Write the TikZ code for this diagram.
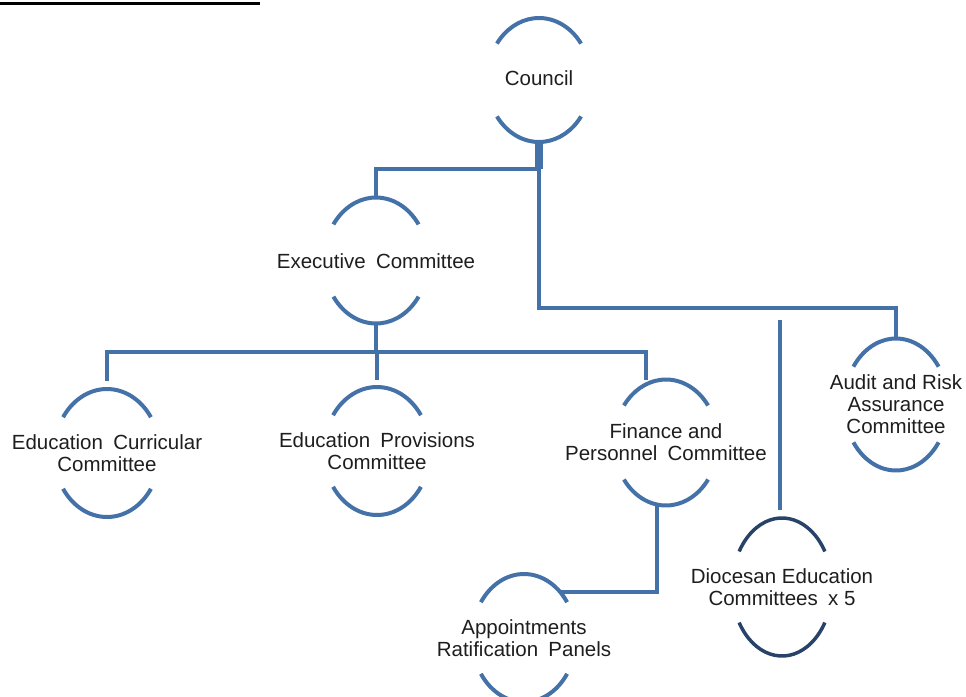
\documentclass[tikz,border=0pt]{standalone}
\usepackage{fontspec}
\setmainfont{Liberation Sans}
\usetikzlibrary{shapes.geometric}
\definecolor{linkblue}{RGB}{68,114,168}
\definecolor{navyarc}{RGB}{40,66,104}
\definecolor{txtgray}{RGB}{30,30,30}
\newcommand{\orgarcs}[5]{%
  \draw[#5] (#1.center) ++(#4:#2pt and #3pt) arc[start angle=#4, end angle={180-#4}, x radius=#2pt, y radius=#3pt];
  \draw[#5] (#1.center) ++({180+#4}:#2pt and #3pt) arc[start angle={180+#4}, end angle={360-#4}, x radius=#2pt, y radius=#3pt];}
\newcommand{\dsp}{\hspace{0.5em}}
\begin{document}
\begin{tikzpicture}[x=1pt,y=-1pt,
  ell/.style={ellipse, draw=none, inner sep=0pt, outer sep=0pt},
  txt/.style={align=center, inner sep=0pt, text=txtgray, font=\fontsize{20.5}{22}\selectfont},
  arcline/.style={draw=linkblue, line width=4pt},
  arcdark/.style={draw=navyarc, line width=3.5pt},
  conn/.style={draw=linkblue, line width=4pt}]
\useasboundingbox (0,0) rectangle (966,696);
% title underline (text cut off above the page)
\coordinate (ula) at (0,3.5);
\coordinate (ulb) at (260,3.5);
\draw[black, line width=3pt] (ula) -- (ulb);
% nodes
\node[ell, minimum width=104pt, minimum height=124pt] (council) at (539,80) {};
\node[txt] (council-t) at ([yshift=2pt]council.center) {Council};
\node[ell, minimum width=104pt, minimum height=126pt] (exec) at (376,260.5) {};
\node[txt] (exec-t) at ([yshift=-1pt]exec.center) {Executive\dsp Committee};
\node[ell, minimum width=106pt, minimum height=128pt] (educ) at (107,453) {};
\node[txt] (educ-t) at (educ) {Education\dsp Curricular\\Committee};
\node[ell, minimum width=106pt, minimum height=128pt] (edup) at (377,451) {};
\node[txt] (edup-t) at (edup) {Education\dsp Provisions\\Committee};
\node[ell, minimum width=104pt, minimum height=126pt] (fin) at (666,442.5) {};
\node[txt] (fin-t) at (fin) {Finance and\\Personnel\dsp Committee};
\node[ell, minimum width=104pt, minimum height=132pt] (audit) at (896,404.5) {};
\node[txt] (audit-t) at (audit) {Audit and Risk\\Assurance\\Committee};
\node[ell, minimum width=100pt, minimum height=138pt] (dioc) at (782,587) {};
\node[txt] (dioc-t) at (dioc) {Diocesan Education\\Committees\dsp x 5};
\node[ell, minimum width=104pt, minimum height=128pt] (appt) at (524,638) {};
\node[txt] (appt-t) at (appt) {Appointments\\Ratification\dsp Panels};
% arcs
\orgarcs{council}{52}{62}{36}{arcline}
\orgarcs{exec}{52}{63}{35}{arcline}
\orgarcs{educ}{53}{64}{34}{arcline}
\orgarcs{edup}{53}{64}{34}{arcline}
\orgarcs{fin}{52}{63}{36}{arcline}
\orgarcs{audit}{52}{66}{35}{arcline}
\orgarcs{dioc}{50}{69}{31}{arcdark}
\orgarcs{appt}{52}{64}{34}{arcline}
% connectors
\coordinate (cj) at (539,169);
\coordinate (cr) at (539,308);
\coordinate (ej) at (376,352);
\coordinate (dtop) at (780,320);
\draw[conn, line width=8pt] (council.south) -- (cj);
\draw[conn] (cj) -| (exec.north);
\draw[conn] (cj) -- (cr) -| (audit.north);
\draw[conn] (exec.south) -- (ej);
\draw[conn, shorten >=8pt] (ej) -| (educ.north);
\draw[conn, shorten >=7pt] (ej) -| (edup.north);
\draw[conn] (ej) -| ([xshift=-20pt]fin.north);
\draw[conn] ([xshift=-9pt]fin.south) |- (appt.52);
\draw[conn, shorten >=8pt] (dtop) -- ([xshift=-2pt]dioc.north);
\end{tikzpicture}
\end{document}
